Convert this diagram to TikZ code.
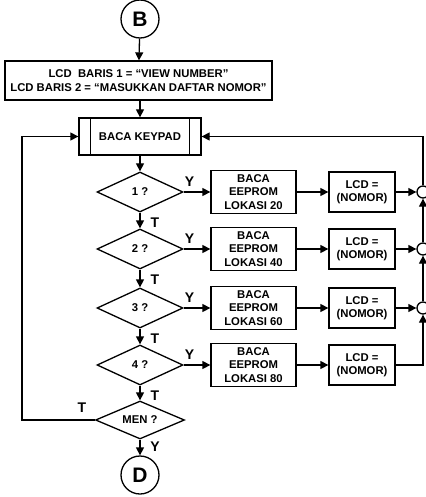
\documentclass[tikz,border=0pt]{standalone}
\usepackage{fontspec}
\setmainfont{Liberation Sans}
\usetikzlibrary{arrows.meta,shapes.geometric}
\begin{document}
\begin{tikzpicture}[x=1pt,y=-1pt,
  line width=1.3pt,
  txt/.style={font=\bfseries\fontsize{11.3}{13.5}\selectfont, align=center},
  conn/.style={draw, circle, minimum size=38pt, inner sep=0pt, font=\bfseries\fontsize{21}{22}\selectfont},
  proc/.style={draw, rectangle, inner sep=0pt, txt},
  dec/.style={draw, diamond, aspect=2.15, inner sep=0pt, minimum width=86pt, minimum height=40pt, txt},
  junc/.style={draw, circle, minimum size=12pt, inner sep=0pt, fill=white},
  arr/.style={-{Triangle[length=8pt,width=8pt]}},
  lab/.style={font=\bfseries\fontsize{14}{15}\selectfont, inner sep=0pt}
]
\useasboundingbox (0,0) rectangle (425,497);

\node[conn] (B) at (140,19) {B};
\node[proc, minimum width=267pt, minimum height=39pt] (lcd0) at (138.5,80.5)
  {LCD\ \ BARIS 1 = “VIEW NUMBER”\\LCD BARIS 2 = “MASUKKAN DAFTAR NOMOR”};
\node[proc, minimum width=122pt, minimum height=37pt] (kp) at (140,136.5) {BACA KEYPAD};
\draw ([xshift=12pt]kp.north west) -- ([xshift=12pt]kp.south west);
\draw ([xshift=-12pt]kp.north east) -- ([xshift=-12pt]kp.south east);

\foreach \i/\y/\n in {1/192/20, 2/249/40, 3/308/60, 4/365/80} {
  \node[dec] (d\i) at (140,\y) {\i\ ?};
  \node[proc, minimum width=85pt, minimum height=43pt] (e\i) at (253.5,\y) {BACA\\EEPROM\\LOKASI \n};
  \node[proc, minimum width=66pt, minimum height=40pt] (l\i) at (362,\y) {LCD =\\(NOMOR)};
  \draw[arr] (d\i.east) -- (e\i.west);
  \draw[arr] (e\i.east) -- (l\i.west);
  \node[lab] at ([xshift=6pt,yshift=10pt]d\i.east) {Y};
  \node[lab] at ([xshift=15pt,yshift=-10pt]d\i.south) {T};
}
\node[dec, minimum width=89pt, minimum height=38pt] (men) at (140,420) {MEN ?};
\node[conn] (D) at (140,475) {D};

\foreach \i/\y in {1/192, 2/249, 3/308} {
  \node[junc] (j\i) at (423,\y) {};
  \draw[arr] (l\i.east) -- (j\i.west);
}
\coordinate (c4) at (423,365);
\coordinate (top) at (423,136.5);
\coordinate (lb) at (22,420);
\coordinate (lt) at (22,136.5);

\draw[arr] (B) -- (lcd0);
\draw[arr] (lcd0.south -| kp.north) -- (kp);
\draw[arr] (kp) -- (d1);
\draw[arr] (d1) -- (d2);
\draw[arr] (d2) -- (d3);
\draw[arr] (d3) -- (d4);
\draw[arr] (d4) -- (men);
\draw[arr] (men) -- (D);

\draw[arr] (l4.east) -- (c4) -- (j3.south);
\draw[arr] (j3.north) -- (j2.south);
\draw[arr] (j2.north) -- (j1.south);
\draw[arr] (j1.north) -- (top) -- (kp.east);
\draw[arr] (men.west) -- (lb) -- (lt) -- (kp.west);

\node[lab] at (82,408) {T};
\node[lab] at (155,447) {Y};
\end{tikzpicture}
\end{document}
